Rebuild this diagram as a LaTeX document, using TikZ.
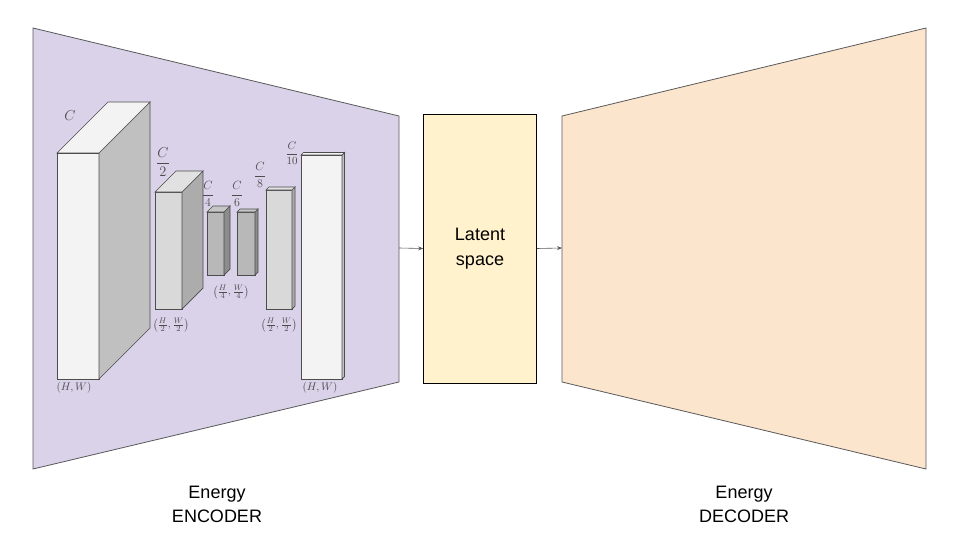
\documentclass[tikz,border=0pt]{standalone}
\usepackage{amsmath}
\usepackage{fontspec}
\setmainfont{Liberation Sans}
\usetikzlibrary{arrows.meta}
\definecolor{Enc}{RGB}{217, 210, 233}
\definecolor{Dec}{RGB}{252, 229, 205}
\definecolor{Lat}{RGB}{255, 242, 204}
\definecolor{Borde}{RGB}{89, 89, 89}
\definecolor{G1}{RGB}{243, 243, 243}
\definecolor{G2}{RGB}{217, 217, 217}
\definecolor{G3}{RGB}{184, 184, 184}
\definecolor{S1}{RGB}{192, 192, 192}
\definecolor{S2}{RGB}{172, 172, 172}
\definecolor{S3}{RGB}{140, 140, 140}

% caja: x, y, ancho, alto, fondo, frente, lado, tapa
\newcommand{\caja}[8]{%
	\filldraw[fill=#6] (#1,#2) rectangle ++(#3,#4);
	\filldraw[fill=#7] (#1+#3,#2) -- ++(#5,-#5) -- ++(0,#4) -- ++(-#5,#5) -- cycle;
	\filldraw[fill=#8] (#1,#2) -- ++(#5,-#5) -- ++(#3,0) -- ++(-#5,#5) -- cycle;
}

\begin{document}
\begin{tikzpicture}[x=1pt,y=-1pt]
	\useasboundingbox (0,0) rectangle (960,540);

	%Encoder (trapecio morado)
	\filldraw[fill=Enc, draw=Borde, line width=0.8pt] (33,28) -- (399,116) -- (399,382) -- (33,469) -- cycle;
	\coordinate (encR) at (399,248);

	%Decoder (trapecio naranja)
	\filldraw[fill=Dec, draw=Borde, line width=0.8pt] (562,116) -- (926,28) -- (926,469) -- (562,382) -- cycle;
	\coordinate (decL) at (562,248);

	%Espacio latente
	\node[draw=black, fill=Lat, line width=0.7pt, minimum width=113pt, minimum height=269pt,
		align=center, font=\fontsize{18}{25}\selectfont] (latente) at (480,248.5) {Latent\\space};

	%Flechas
	\draw[Borde, line width=0.6pt, -{Stealth[length=5pt,width=4pt]}] (encR) -- (latente.west);
	\draw[Borde, line width=0.6pt, -{Stealth[length=5pt,width=4pt]}] (latente.east) -- (decL);

	%Cajas de la red
	\begin{scope}[draw=black!70, line width=0.7pt]
		\caja{57}{153}{42}{226}{51}{G1}{S1}{G1}
		\caja{155}{192}{27}{117}{21}{G2}{S2}{G2!80!white}
		\caja{207}{212}{17}{63}{6}{G3}{S3}{G3!80!white}
		\caja{237}{212}{18}{63}{3}{G3}{S3}{G3!80!white}
		\caja{266}{190}{26}{119}{3}{G2}{S2}{G2!80!white}
		\caja{301}{155}{41}{224}{2.5}{G1}{S1}{G1}
	\end{scope}

	%Canales
	\begin{scope}[text=black!70, inner sep=1pt]
		\node (c1) at (70,116) {\fontsize{15}{18}\selectfont $C$};
		\node (c2) at (163,162) {\fontsize{14}{18}\selectfont $\dfrac{C}{2}$};
		\node (c4) at (208,194) {\fontsize{12}{14}\selectfont $\dfrac{C}{4}$};
		\node (c6) at (237,194) {\fontsize{12}{14}\selectfont $\dfrac{C}{6}$};
		\node (c8) at (260,175) {\fontsize{12}{14}\selectfont $\dfrac{C}{8}$};
		\node (c10) at (292,153) {\fontsize{11}{13}\selectfont $\dfrac{C}{10}$};

		%Dimensiones
		\node (d1) at (74,388) {\fontsize{11}{13}\selectfont $(H,W)$};
		\node (d2) at (171,325) {\fontsize{11}{13}\selectfont $\left(\frac{H}{2},\frac{W}{2}\right)$};
		\node (d3) at (231,292) {\fontsize{11}{13}\selectfont $\left(\frac{H}{4},\frac{W}{4}\right)$};
		\node (d4) at (279,325) {\fontsize{11}{13}\selectfont $\left(\frac{H}{2},\frac{W}{2}\right)$};
		\node (d5) at (320,388) {\fontsize{11}{13}\selectfont $(H,W)$};
	\end{scope}

	%Titulos
	\node[align=center, font=\fontsize{18}{24}\selectfont] (tenc) at (217,504) {Energy\\ENCODER};
	\node[align=center, font=\fontsize{18}{24}\selectfont] (tdec) at (744,504) {Energy\\DECODER};
\end{tikzpicture}
\end{document}
